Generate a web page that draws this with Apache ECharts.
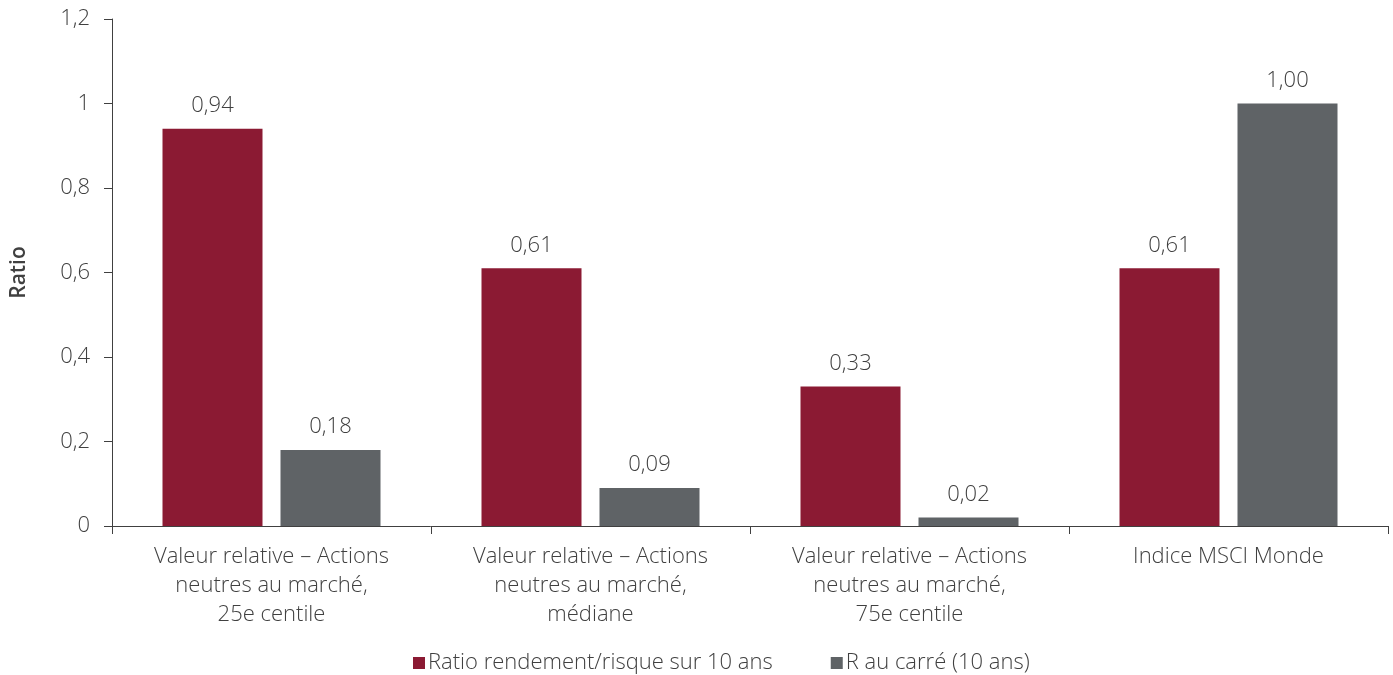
<!DOCTYPE html>
<html>
<head>
<meta charset="utf-8">
<script src="https://cdn.jsdelivr.net/npm/echarts@6/dist/echarts.min.js"></script>
<style>
  html, body { margin: 0; padding: 0; background: #fff; }
  #chart { width: 1393px; height: 675px; }
</style>
</head>
<body>
<div id="chart"></div>
<script>
// categories and values
var categories = [
  'Valeur relative – Actions\nneutres au marché,\n25e centile',
  'Valeur relative – Actions\nneutres au marché,\nmédiane',
  'Valeur relative – Actions\nneutres au marché,\n75e centile',
  'Indice MSCI Monde'
];
var ratioValues = [0.94, 0.61, 0.33, 0.61];
var rSquaredValues = [0.18, 0.09, 0.02, 1.00];
var seriesNames = ['Ratio rendement/risque sur 10 ans', 'R au carré (10 ans)'];

var textColor = '#404040';
var font = 'Open Sans';

function fmt(v) {
  return v.toFixed(2).replace('.', ',');
}

var chart = echarts.init(document.getElementById('chart'));

var valueLabel = {
  show: true,
  position: 'top',
  distance: 12,
  fontSize: 22,
  color: textColor,
  fontWeight: 300,
  formatter: function (p) { return fmt(p.value); }
};

var option = {
  backgroundColor: '#ffffff',
  color: ['#8B1A33', '#5F6366'],
  textStyle: { fontFamily: font, color: textColor },
  grid: { left: 112, right: 5, top: 19, bottom: 149, containLabel: false, outerBoundsMode: 'none' },
  legend: {
    top: 647,
    left: 408,
    itemWidth: 12,
    itemHeight: 12,
    itemGap: 58,
    icon: 'rect',
    textStyle: { fontSize: 22, color: textColor, fontFamily: font, fontWeight: 300, padding: [0, 0, 0, -2] },
    data: seriesNames
  },
  xAxis: {
    type: 'category',
    data: categories,
    axisLine: { lineStyle: { color: '#404040', width: 1 } },
    axisTick: { show: true, length: 8, lineStyle: { color: '#404040' } },
    axisLabel: {
      fontSize: 22,
      color: textColor,
      fontWeight: 300,
      lineHeight: 29,
      margin: 16,
      interval: 0
    }
  },
  yAxis: {
    type: 'value',
    min: 0,
    max: 1.2,
    interval: 0.2,
    name: 'Ratio',
    nameLocation: 'middle',
    nameGap: 82,
    nameRotate: 90,
    nameTextStyle: { fontSize: 21, color: textColor, fontWeight: 600 },
    splitLine: { show: false },
    axisLine: { show: true, lineStyle: { color: '#404040', width: 1 } },
    axisTick: { show: true, length: 8, inside: false, lineStyle: { color: '#404040' } },
    axisLabel: {
      fontSize: 22,
      color: textColor,
      fontWeight: 300,
      margin: 22,
      formatter: function (v) {
        var s = String(Math.round(v * 10) / 10);
        return s.replace('.', ',');
      }
    }
  },
  series: [
    {
      name: seriesNames[0],
      type: 'bar',
      data: ratioValues,
      barWidth: 100,
      barGap: '18%',
      label: valueLabel
    },
    {
      name: seriesNames[1],
      type: 'bar',
      data: rSquaredValues,
      barWidth: 100,
      label: valueLabel
    }
  ]
};

chart.setOption(option);
</script>
</body>
</html>
